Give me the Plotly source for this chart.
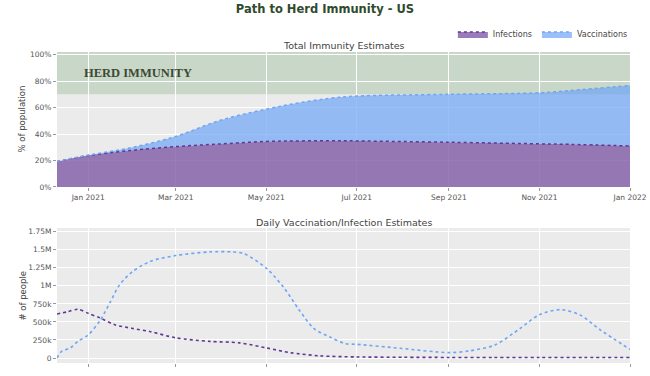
import plotly.graph_objects as go
from plotly.subplots import make_subplots

# ---- Data: cumulative immunity (% of population) ----
imm_dates = ["2020-12-11", "2021-01-01", "2021-01-29", "2021-03-01", "2021-03-31",
             "2021-05-01", "2021-05-23", "2021-06-13", "2021-07-01", "2021-09-01",
             "2021-11-01", "2021-11-21", "2022-01-01"]
imm_infections = [19.3, 23.7, 27.5, 30.5, 32.5, 34.4, 34.8, 35.0, 34.8, 33.8, 32.6, 32.2, 31.0]
imm_vaccinations = [0.0, 0.3, 2.0, 7.7, 17.9, 24.4, 28.8, 32.0, 33.9, 36.2, 38.6, 40.6, 45.6]

# ---- Data: daily estimates (# of people) ----
inf_dates = ["2020-12-11", "2020-12-18", "2020-12-25", "2021-01-01", "2021-01-09",
             "2021-01-19", "2021-01-31", "2021-02-12", "2021-03-01", "2021-03-24",
             "2021-04-13", "2021-05-01", "2021-05-17", "2021-06-06", "2021-07-01",
             "2021-08-01", "2021-09-01", "2021-10-01", "2021-11-01", "2021-12-01",
             "2022-01-01"]
inf_daily = [610000, 640000, 675000, 620000, 555000, 460000, 410000, 365000, 280000,
             230000, 210000, 140000, 75000, 30000, 15000, 10000, 8000, 8000, 8000,
             8000, 8000]

vac_dates = ["2020-12-11", "2020-12-14", "2020-12-20", "2020-12-25", "2021-01-01",
             "2021-01-09", "2021-01-16", "2021-01-22", "2021-01-31", "2021-02-12",
             "2021-03-01", "2021-03-24", "2021-04-08", "2021-04-16", "2021-05-01",
             "2021-05-13", "2021-05-23", "2021-06-02", "2021-06-13", "2021-06-23",
             "2021-07-01", "2021-07-30", "2021-09-01", "2021-09-15", "2021-10-02",
             "2021-10-19", "2021-11-01", "2021-11-15", "2021-11-28", "2021-12-12",
             "2022-01-01"]
vac_daily = [0, 90000, 140000, 230000, 320000, 520000, 780000, 1010000, 1200000,
             1340000, 1420000, 1470000, 1470000, 1445000, 1245000, 970000, 670000,
             410000, 290000, 200000, 190000, 135000, 75000, 100000, 180000, 410000,
             600000, 670000, 600000, 390000, 120000]

herd_threshold = [70, 102]

PURPLE_LINE = "rgb(95,55,150)"
PURPLE_FILL = "rgba(120,80,160,0.75)"
BLUE_LINE = "rgb(110,165,245)"
BLUE_FILL = "rgba(110,165,245,0.7)"
FONT = "DejaVu Sans"

fig = make_subplots(rows=2, cols=1, shared_xaxes=False)

fig.add_trace(go.Scatter(x=imm_dates, y=imm_infections, name="Infections",
                         stackgroup="one", mode="lines",
                         line=dict(color=PURPLE_LINE, width=1.5, dash="dot", shape="spline"),
                         fillcolor=PURPLE_FILL, legendgroup="inf"), row=1, col=1)
fig.add_trace(go.Scatter(x=imm_dates, y=imm_vaccinations, name="Vaccinations",
                         stackgroup="one", mode="lines",
                         line=dict(color=BLUE_LINE, width=1.5, dash="dot", shape="spline"),
                         fillcolor=BLUE_FILL, legendgroup="vac"), row=1, col=1)

fig.add_trace(go.Scatter(x=inf_dates, y=inf_daily, name="Infections", mode="lines",
                         line=dict(color=PURPLE_LINE, width=1.6, dash="dot", shape="spline",
                                   smoothing=0.8),
                         showlegend=False, legendgroup="inf"), row=2, col=1)
fig.add_trace(go.Scatter(x=vac_dates, y=vac_daily, name="Vaccinations", mode="lines",
                         line=dict(color=BLUE_LINE, width=1.6, dash="dot", shape="spline",
                                   smoothing=0.8),
                         showlegend=False, legendgroup="vac"), row=2, col=1)

# Herd immunity band
fig.add_shape(type="rect", xref="x domain", yref="y", x0=0, x1=1,
              y0=herd_threshold[0], y1=herd_threshold[1],
              fillcolor="rgba(0,100,0,0.15)", line=dict(width=0), layer="below")
fig.add_annotation(xref="x domain", yref="y", x=0.044, y=86, text="<b>HERD IMMUNITY</b>",
                   showarrow=False, xanchor="left", yanchor="middle",
                   font=dict(family="Liberation Serif", size=12.5, color="#3b4a33"))

# subplot titles
fig.add_annotation(xref="paper", yref="paper", x=0.5, y=1.0225, text="Total Immunity Estimates",
                   showarrow=False, xanchor="center", yanchor="middle",
                   font=dict(family=FONT, size=9.5, color="#444"))
fig.add_annotation(xref="paper", yref="paper", x=0.5, y=0.453,
                   text="Daily Vaccination/Infection Estimates",
                   showarrow=False, xanchor="center", yanchor="middle",
                   font=dict(family=FONT, size=9.5, color="#444"))

# y-axis titles
fig.add_annotation(xref="paper", yref="y domain", x=-0.061, y=0.5, text="% of population",
                   textangle=-90, showarrow=False, xanchor="center", yanchor="middle",
                   font=dict(family=FONT, size=8.5, color="#444"))
fig.add_annotation(xref="paper", yref="y2 domain", x=-0.061, y=0.5, text="# of people",
                   textangle=-90, showarrow=False, xanchor="center", yanchor="middle",
                   font=dict(family=FONT, size=8.5, color="#444"))

xrange = ["2020-12-11", "2022-01-01"]
axis_common = dict(showgrid=True, gridcolor="white", gridwidth=1, zeroline=False,
                   ticks="outside", ticklen=3, tickcolor="#999", automargin=False,
                   tickfont=dict(family=FONT, size=7.5, color="#555"))

fig.update_xaxes(range=xrange, dtick="M2", tickformat="%b %Y", tick0="2021-01-01",
                 domain=[0, 1], **axis_common)
fig.update_xaxes(showticklabels=False, row=2, col=1)
fig.update_yaxes(**axis_common)
fig.update_yaxes(range=[0, 102], dtick=20, ticksuffix="%", domain=[0.566, 1], row=1, col=1)
fig.update_yaxes(range=[-69000, 1801000], dtick=250000, tickformat="~s", domain=[0, 0.434],
                 row=2, col=1)

fig.update_layout(
    width=650, height=376,
    margin=dict(l=57, r=20, t=52, b=13, autoexpand=False),
    paper_bgcolor="white", plot_bgcolor="#ebebeb",
    font=dict(family=FONT, color="#444"),
    title=dict(text="<b>Path to Herd Immunity - US</b>", x=0.5, xanchor="center",
               y=1 - 9 / 376, yanchor="middle",
               font=dict(family=FONT, size=11.5, color="#304a2c")),
    legend=dict(orientation="h", x=1.005, xanchor="right", y=1.058, yanchor="middle",
                font=dict(family=FONT, size=8, color="#444"), bgcolor="rgba(0,0,0,0)",
                itemwidth=30, tracegroupgap=0),
    showlegend=True,
)

fig.write_html("out.html", config={"displayModeBar": False},
               post_script="document.body.style.margin='0px';")
